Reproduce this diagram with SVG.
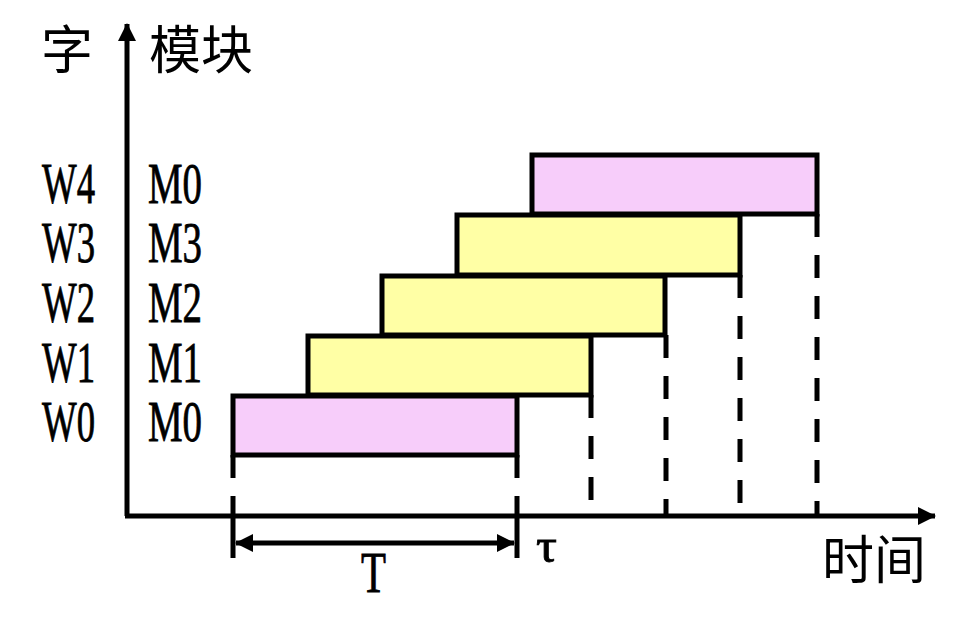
<svg xmlns="http://www.w3.org/2000/svg" width="960" height="618" viewBox="0 0 960 618">
<style>
.box{stroke:#000;stroke-width:5}
.pink{fill:#F7CDFA}
.yel{fill:#FFFFA5}
.ln{stroke:#000;stroke-width:5;fill:none}
.dash{stroke:#000;stroke-width:5;fill:none;stroke-dasharray:23 18}
.lat{font-family:"Liberation Serif",serif;font-size:56px;fill:#000;stroke:#000;stroke-width:0.8}
.cjk{font-family:"Noto Sans CJK SC",sans-serif;font-size:52px;fill:#000}
</style>
<defs>
<marker id="ah" viewBox="0 0 18 18" refX="17" refY="9" markerWidth="18" markerHeight="18" markerUnits="userSpaceOnUse" orient="auto-start-reverse">
<path d="M0,0 L18,9 L0,18 Z" fill="#000"/>
</marker>
</defs>
<rect width="960" height="618" fill="#fff"/>

<g id="labels">
<text class="cjk" x="41" y="69">字</text>
<text class="cjk" x="149" y="69">模块</text>
<text class="cjk" x="822" y="579">时间</text>
<text class="lat" x="42" y="203" textLength="53" lengthAdjust="spacingAndGlyphs">W4</text>
<text class="lat" x="42" y="262" textLength="53" lengthAdjust="spacingAndGlyphs">W3</text>
<text class="lat" x="42" y="322" textLength="53" lengthAdjust="spacingAndGlyphs">W2</text>
<text class="lat" x="42" y="382" textLength="53" lengthAdjust="spacingAndGlyphs">W1</text>
<text class="lat" x="42" y="441" textLength="53" lengthAdjust="spacingAndGlyphs">W0</text>
<text class="lat" x="148" y="203" textLength="54" lengthAdjust="spacingAndGlyphs">M0</text>
<text class="lat" x="148" y="262" textLength="54" lengthAdjust="spacingAndGlyphs">M3</text>
<text class="lat" x="148" y="322" textLength="54" lengthAdjust="spacingAndGlyphs">M2</text>
<text class="lat" x="148" y="382" textLength="54" lengthAdjust="spacingAndGlyphs">M1</text>
<text class="lat" x="148" y="441" textLength="54" lengthAdjust="spacingAndGlyphs">M0</text>
<text class="lat" x="361" y="592" textLength="25" lengthAdjust="spacingAndGlyphs">T</text>
<text class="lat" x="536" y="562" style="font-size:48px" textLength="21" lengthAdjust="spacingAndGlyphs">τ</text>
</g>

<g id="node-W0"><rect class="box pink" x="233" y="396" width="284" height="59"/></g>
<g id="node-W1"><rect class="box yel" x="308" y="336" width="283" height="59"/></g>
<g id="node-W2"><rect class="box yel" x="382" y="276" width="283" height="59"/></g>
<g id="node-W3"><rect class="box yel" x="457" y="215" width="283" height="60"/></g>
<g id="node-W4"><rect class="box pink" x="532" y="155" width="285" height="59"/></g>

<g id="connectors">
<line class="ln" x1="127" y1="516" x2="127" y2="24" marker-end="url(#ah)"/>
<line class="ln" x1="125" y1="516" x2="935" y2="516" marker-end="url(#ah)"/>
<line class="dash" x1="233" y1="455" x2="233" y2="497"/>
<line class="dash" x1="517" y1="455" x2="517" y2="497"/>
<line class="ln" x1="233" y1="497" x2="233" y2="558"/>
<line class="ln" x1="517" y1="497" x2="517" y2="558"/>
<line class="dash" x1="591" y1="395" x2="591" y2="516"/>
<line class="dash" x1="666" y1="335" x2="666" y2="516"/>
<line class="dash" x1="740" y1="275" x2="740" y2="516"/>
<line class="dash" x1="817" y1="214" x2="817" y2="516"/>
<line class="ln" x1="236" y1="543" x2="514" y2="543" marker-start="url(#ah)" marker-end="url(#ah)"/>
</g>
</svg>
